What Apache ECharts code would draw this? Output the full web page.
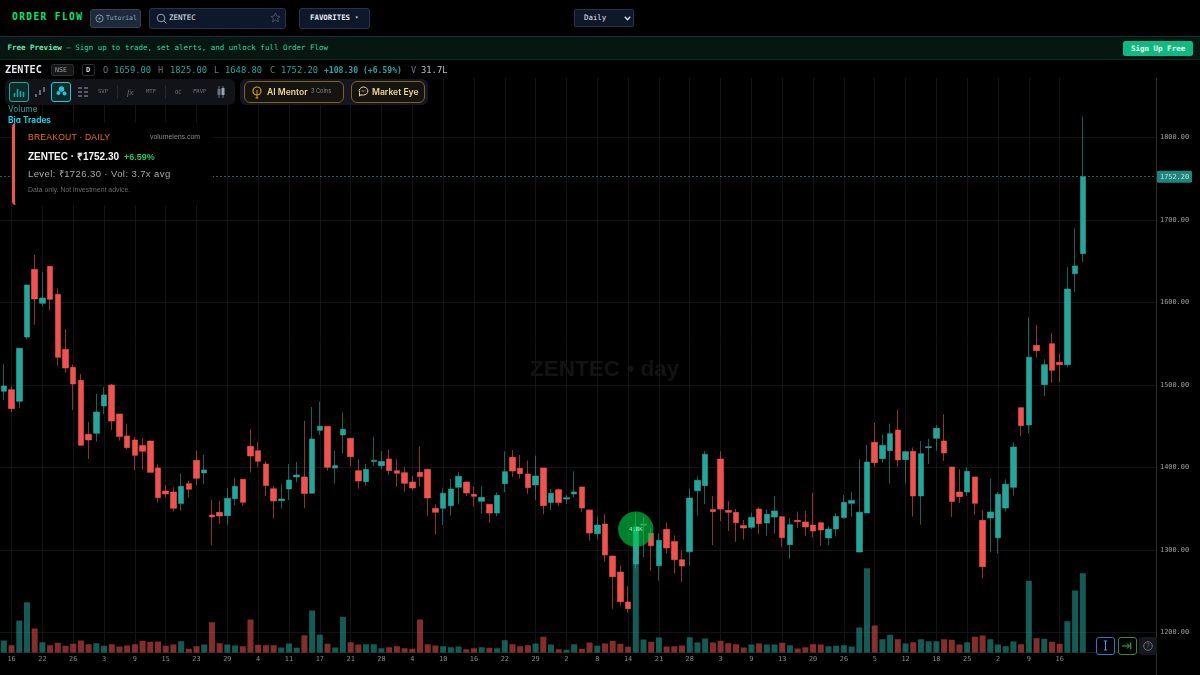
<!DOCTYPE html>
<html>
<head>
<meta charset="utf-8">
<title>ZENTEC order flow</title>
<script src="https://cdn.jsdelivr.net/npm/echarts@6/dist/echarts.min.js"></script>
<style>
html, body { margin: 0; padding: 0; background: #000; width: 1200px; height: 675px; overflow: hidden; }
#main { position: absolute; left: 0; top: 0; width: 1200px; height: 675px; }
.box { position: absolute; box-sizing: border-box; }
.t { position: absolute; white-space: nowrap; line-height: 1; font-family: "DejaVu Sans Mono", monospace; }
.s { font-family: "Liberation Sans", Arial, sans-serif; }
.i { font-family: Inter, "Noto Sans", sans-serif; }
.gray { color: #6b7280; }
.teal { color: #26a69a; }
svg { position: absolute; }
</style>
</head>
<body>
<div id="main"></div>

<!-- top bar -->
<div class="box" style="left:0;top:0;width:1200px;height:37px;background:#000;border-bottom:1px solid #1e293b"></div>
<div class="t" style="left:12px;top:12px;font-size:9.6px;font-weight:bold;color:#00e676;letter-spacing:1.35px">ORDER FLOW</div>
<div class="box" style="left:90px;top:9px;width:51px;height:19px;background:#1e293b;border:1px solid #334155;border-radius:3px"></div>
<svg style="left:95px;top:14px" width="9" height="9" viewBox="0 0 10 10"><circle cx="5" cy="5" r="4" fill="none" stroke="#94a3b8" stroke-width="1"/><circle cx="5" cy="5" r="1.2" fill="#94a3b8"/></svg>
<div class="t" style="left:106px;top:15px;font-size:6.4px;color:#94a3b8">Tutorial</div>
<div class="box" style="left:149px;top:7.5px;width:137px;height:21px;background:#0f172a;border:1px solid #263449;border-radius:3px"></div>
<svg style="left:156px;top:13px" width="11" height="11" viewBox="0 0 11 11"><circle cx="5" cy="5" r="3.8" fill="none" stroke="#94a3b8" stroke-width="1"/><path d="M8 8l2.4 2.4" stroke="#94a3b8"/></svg>
<div class="t" style="left:169px;top:14px;font-size:7.4px;color:#e2e8f0">ZENTEC</div>
<svg style="left:270px;top:12px" width="11" height="11" viewBox="0 0 24 24"><path d="M12 2l3 7 7 .6-5.4 4.7 1.7 7.2L12 17.6 5.7 21.5l1.7-7.2L2 9.6 9 9z" fill="none" stroke="#475569" stroke-width="2"/></svg>
<div class="box" style="left:299px;top:7.5px;width:71px;height:21px;background:#0f172a;border:1px solid #263449;border-radius:3px"></div>
<div class="t" style="left:310px;top:14px;font-size:7.4px;font-weight:bold;color:#e2e8f0">FAVORITES</div>
<div class="t" style="left:355px;top:15px;font-size:5.5px;color:#e2e8f0">▾</div>
<div class="box" style="left:574px;top:9px;width:60px;height:18px;background:#0f172a;border:1px solid #263449;border-radius:2px"></div>
<div class="t" style="left:584px;top:14px;font-size:7.4px;color:#e2e8f0">Daily</div>
<svg style="left:624px;top:15.5px" width="7" height="5" viewBox="0 0 7 5"><path d="M.8 .8L3.5 3.8 6.2 .8" fill="none" stroke="#e2e8f0" stroke-width="1.3"/></svg>

<!-- preview banner -->
<div class="box" style="left:0;top:37px;width:1200px;height:23px;background:#061712;border-bottom:1px solid #0e2b20"></div>
<div class="t" style="left:7.5px;top:44px;font-size:7.5px;color:#34d399"><b style="color:#6ee7b7">Free Preview</b> — Sign up to trade, set alerts, and unlock full Order Flow</div>
<div class="box" style="left:1123px;top:41px;width:70px;height:14.5px;background:#10b981;border-radius:2.5px"></div>
<div class="t" style="left:1131px;top:44.5px;font-size:7.5px;font-weight:bold;color:#ecfdf5">Sign Up Free</div>

<!-- ohlc row -->
<div class="box" style="left:0;top:60px;width:1156px;height:18px;background:#000"></div>
<div class="t" style="left:5px;top:65px;font-size:10.2px;font-weight:bold;color:#e5e7eb">ZENTEC</div>
<div class="box" style="left:51px;top:64px;width:23px;height:12px;background:#171717;border:1px solid #2c2c2c;border-radius:2px"></div>
<div class="t" style="left:55px;top:67px;font-size:6.6px;color:#9ca3af">NSE</div>
<div class="box" style="left:82px;top:64px;width:13px;height:12px;border:1px solid #2c2c2c;border-radius:2px"></div>
<div class="t" style="left:86px;top:66.5px;font-size:7px;font-weight:bold;color:#d1d5db">D</div>
<div class="t gray" style="left:103px;top:66px;font-size:8.6px">O</div>
<div class="t teal" style="left:114px;top:66px;font-size:8.8px">1659.00</div>
<div class="t gray" style="left:158px;top:66px;font-size:8.6px">H</div>
<div class="t teal" style="left:170px;top:66px;font-size:8.8px">1825.00</div>
<div class="t gray" style="left:214px;top:66px;font-size:8.6px">L</div>
<div class="t teal" style="left:225px;top:66px;font-size:8.8px">1648.80</div>
<div class="t gray" style="left:270px;top:66px;font-size:8.6px">C</div>
<div class="t teal" style="left:281px;top:66px;font-size:8.8px">1752.20</div>
<div class="t teal" style="left:324px;top:66px;font-size:8.1px;font-weight:bold">+108.30 (+6.59%)</div>
<div class="t gray" style="left:411px;top:66px;font-size:8.6px">V</div>
<div class="t" style="left:421px;top:66px;font-size:8.8px;color:#b8bec7">31.7L</div>

<!-- toolbar -->
<div class="box" style="left:5px;top:79px;width:230px;height:26px;background:#111318;border-radius:6px"></div>
<div class="box" style="left:9px;top:82px;width:20px;height:19.5px;background:#0b2a2a;border:1px solid #26a69a;border-radius:3px"></div>
<svg style="left:13px;top:86px" width="12" height="12" viewBox="0 0 12 12"><path d="M1.5 11V7M4.5 11V3M7.5 11V5M10.5 11V6" stroke="#26a69a" stroke-width="1.6"/></svg>
<svg style="left:34px;top:86px" width="12" height="12" viewBox="0 0 12 12"><path d="M2 11V8M6 9V4M10 6V1" stroke="#6b7280" stroke-width="1.8"/></svg>
<div class="box" style="left:51px;top:82px;width:20px;height:19.5px;background:#0b2a2a;border:1px solid #26c6da;border-radius:3px"></div>
<svg style="left:55px;top:85px" width="13" height="13" viewBox="0 0 13 13"><circle cx="6.5" cy="4" r="2.7" fill="#26c6da"/><circle cx="3.5" cy="8" r="2" fill="#26c6da"/><circle cx="9.5" cy="8.5" r="2" fill="#26c6da"/></svg>
<svg style="left:77px;top:86px" width="12" height="12" viewBox="0 0 12 12"><path d="M1 2h4M7 2h4M1 6h4M7 6h4M1 10h4M7 10h4" stroke="#6b7280" stroke-width="1.3"/></svg>
<div class="t gray" style="left:98px;top:88.5px;font-size:5.6px">SVP</div>
<div class="box" style="left:117px;top:85px;width:1px;height:14px;background:#24272e"></div>
<div class="t gray" style="left:127px;top:88px;font-size:9px;font-style:italic;font-family:'Liberation Serif',serif">fx</div>
<div class="t gray" style="left:146px;top:88.5px;font-size:5.6px">MTF</div>
<div class="box" style="left:165px;top:85px;width:1px;height:14px;background:#24272e"></div>
<div class="t gray" style="left:175px;top:90px;font-size:5.6px">OC</div>
<div class="t gray" style="left:193px;top:88.5px;font-size:5.6px">FRVP</div>
<svg style="left:216px;top:86px" width="10" height="12" viewBox="0 0 10 12"><path d="M3 0v12M7 0v12" stroke="#6b7280"/><rect x="1.5" y="3" width="3" height="6" fill="#6b7280"/><rect x="5.5" y="2" width="3" height="7" fill="#9ca3af"/></svg>

<div class="box" style="left:240px;top:79px;width:188px;height:26px;background:#15161f;border-radius:6px"></div>
<div class="box" style="left:244px;top:81px;width:100px;height:21.5px;background:#14130f;border:1px solid #7c6224;border-radius:6px"></div>
<svg style="left:251px;top:86px" width="12" height="13" viewBox="0 0 12 13"><circle cx="6" cy="5" r="4" fill="none" stroke="#d4a017" stroke-width="1.2"/><path d="M6 4v8M4.5 12h3" stroke="#d4a017"/></svg>
<div class="t i" style="left:267px;top:87.5px;font-size:8.6px;font-weight:600;color:#f0d78c">AI Mentor</div>
<div class="t i" style="left:311px;top:89px;font-size:5.6px;color:#8a8a80">3 Coins</div>
<div class="box" style="left:351px;top:81px;width:74px;height:21.5px;background:#14130f;border:1px solid #7c6224;border-radius:6px"></div>
<svg style="left:358px;top:86px" width="11" height="11" viewBox="0 0 11 11"><path d="M5.5 1a4.4 4 0 0 1 0 8H2l-.5 1.2V6.5A4.4 4 0 0 1 5.5 1z" fill="none" stroke="#f0d78c"/><path d="M3.5 5h4" stroke="#f0d78c" stroke-dasharray="1 .8"/></svg>
<div class="t i" style="left:372px;top:87.5px;font-size:8.6px;font-weight:600;color:#f0d78c">Market Eye</div>

<div class="t i teal" style="left:8px;top:105px;font-size:8.4px">Volume</div>
<div class="t i" style="left:8px;top:116px;font-size:8.4px;font-weight:600;color:#00e5ff">Big Trades</div>

<!-- breakout card -->
<div class="box" style="left:12px;top:123px;width:201px;height:82px;background:#000;border-left:3px solid #ef5350;border-radius:4px 0 0 4px"></div>
<div class="t s" style="left:28px;top:133px;font-size:8.6px;color:#ea6c0e;letter-spacing:.2px">BREAKOUT · DAILY</div>
<div class="t s" style="left:150px;top:134px;font-size:6.95px;color:#8b8b8b">volumelens.com</div>
<div class="t s" style="left:28px;top:152px;font-size:10px;font-weight:bold;color:#f3f4f6">ZENTEC · ₹1752.30</div>
<div class="t s" style="left:124px;top:153px;font-size:9px;font-weight:bold;color:#22c55e">+6.59%</div>
<div class="t s" style="left:28px;top:169px;font-size:9.5px;color:#a8a8a8;letter-spacing:.4px">Level: ₹1726.30 · Vol: 3.7x avg</div>
<div class="t s" style="left:28px;top:187px;font-size:6.9px;color:#6a6a6a">Data only. Not investment advice.</div>

<!-- price scale border and corner buttons -->
<div class="box" style="left:1156px;top:78px;width:1px;height:597px;background:#2b2b2b"></div>
<div class="box" style="left:1096px;top:636.5px;width:19px;height:18.5px;background:#000;border:1px solid #1e7bd6;border-radius:3px"></div>
<svg style="left:1101px;top:640px" width="9" height="11" viewBox="0 0 9 11"><path d="M4.5 1v9M2.8 1h3.4M2.8 10h3.4" stroke="#3b9eea" stroke-width="1"/></svg>
<div class="box" style="left:1117.5px;top:636.5px;width:19px;height:18.5px;background:#000;border:1px solid #2e8b3d;border-radius:3px"></div>
<svg style="left:1122px;top:641px" width="10" height="10" viewBox="0 0 10 10"><path d="M0 5h7M5 2.5L7.5 5 5 7.5M8.8 1.5v7" fill="none" stroke="#3fb950" stroke-width="1"/></svg>
<div class="box" style="left:1139px;top:636.5px;width:18px;height:18.5px;background:#15171c;border-radius:3px"></div>
<svg style="left:1143px;top:640.5px" width="10" height="10" viewBox="0 0 10 10"><circle cx="5" cy="5" r="4.3" fill="none" stroke="#6b7280"/></svg>
<div class="t s" style="left:1146px;top:642.5px;font-size:6.5px;color:#6b7280">?</div>

<script>
var upColor = '#26a69a';
var downColor = '#ef5350';

// day labels under the chart, one every 4th candle starting from the 2nd
var dayTicks = ['16','22','26','3','9','15','23','29','4','11','17','21','28','4','10','16','22','29','2','8','14','21','28','3','9','13','20','26','5','12','18','25','2','9','16'];

var opens = [
    1492.1,1494.1,1480.0,1557.9,1640.0,1598.8,1643.6,1609.7,1543.0,1521.2,
    1505.4,1440.0,1441.2,1474.3,1499.8,1464.6,1438.0,1433.1,1426.3,1431.9,
    1399.2,1371.3,1370.1,1356.0,1380.2,1408.5,1393.1,1342.2,1345.4,1341.4,
    1362.0,1385.4,1425.4,1420.2,1404.0,1374.1,1359.6,1373.7,1388.3,1388.3,
    1368.5,1444.8,1449.7,1399.2,1439.2,1435.1,1395.9,1382.6,1406.9,1402.0,
    1410.1,1395.9,1393.5,1382.2,1393.9,1397.6,1350.3,1350.3,1353.5,1375.8,
    1382.2,1367.3,1358.8,1355.1,1344.6,1380.2,1412.1,1398.8,1391.9,1378.6,
    1399.2,1357.2,1372.9,1361.6,1367.7,1376.2,1348.3,1319.5,1331.3,1292.5,
    1273.0,1236.7,1282.8,1329.8,1320.0,1280.7,1324.8,1310.2,1288.0,1297.7,
    1371.6,1377.7,1349.0,1410.0,1347.8,1345.4,1329.6,1327.2,1349.4,1332.5,
    1339.7,1340.1,1306.2,1335.7,1333.7,1330.0,1332.9,1314.3,1325.2,1339.3,
    1356.3,1297.3,1344.6,1430.3,1410.5,1420.2,1445.2,1409.3,1419.4,1365.2,
    1423.8,1435.1,1431.9,1400.4,1370.1,1370.1,1388.3,1335.7,1338.6,1314.7,
    1350.7,1375.7,1472.3,1451.3,1547.8,1500.2,1549.9,1527.2,1524.4,1634.7,
    1659.0
];
var closes = [
    1498.6,1471.1,1544.2,1621.0,1604.0,1605.2,1603.6,1533.3,1520.4,1501.0,
    1426.6,1433.1,1467.1,1487.7,1456.1,1437.2,1423.8,1414.5,1419.4,1393.9,
    1363.2,1367.7,1350.3,1376.9,1373.3,1386.7,1396.8,1339.8,1341.0,1362.4,
    1376.9,1357.6,1413.7,1407.3,1377.8,1359.2,1361.6,1384.6,1390.7,1368.1,
    1434.3,1449.7,1400.0,1402.0,1446.0,1412.9,1383.4,1397.6,1408.5,1406.9,
    1395.9,1392.7,1380.6,1374.9,1388.7,1362.8,1345.5,1368.5,1373.7,1389.1,
    1368.9,1364.8,1363.6,1344.6,1366.0,1394.7,1395.5,1392.3,1375.3,1389.5,
    1353.5,1368.5,1357.2,1363.2,1370.1,1350.7,1320.4,1330.0,1293.7,1267.4,
    1237.1,1228.6,1328.0,1331.3,1305.0,1311.5,1302.2,1288.0,1280.3,1362.8,
    1384.2,1415.7,1346.2,1349.4,1345.4,1332.9,1326.4,1339.3,1331.7,1343.0,
    1347.0,1314.7,1330.4,1334.1,1327.6,1322.8,1324.0,1325.2,1340.5,1357.5,
    1359.9,1345.4,1406.4,1405.6,1426.6,1440.8,1408.9,1419.0,1365.2,1416.5,
    1425.0,1447.2,1417.3,1358.4,1364.4,1395.1,1356.3,1279.6,1345.8,1367.2,
    1379.4,1424.6,1450.5,1533.3,1541.4,1524.4,1517.5,1524.4,1616.1,1644.0,
    1752.2
];
var highs = [
    1524.8,1498.6,1544.2,1621.0,1657.3,1636.7,1644.0,1616.9,1567.6,1524.8,
    1513.1,1454.9,1488.9,1497.4,1501.0,1464.6,1452.9,1436.8,1435.1,1431.9,
    1403.6,1378.6,1375.8,1392.3,1383.8,1420.2,1414.9,1360.4,1359.6,1374.9,
    1387.1,1385.4,1446.4,1430.7,1407.3,1377.4,1379.4,1404.0,1406.5,1456.1,
    1473.1,1479.6,1449.7,1420.2,1466.7,1435.1,1409.7,1404.0,1437.2,1419.4,
    1421.8,1409.7,1400.0,1389.5,1425.4,1397.6,1355.1,1374.5,1385.9,1394.3,
    1382.6,1376.9,1377.0,1355.6,1369.7,1419.4,1421.0,1415.0,1408.1,1414.1,
    1399.2,1373.7,1374.1,1366.5,1395.1,1376.2,1348.3,1340.1,1343.0,1292.5,
    1281.2,1256.1,1345.0,1340.0,1326.0,1320.0,1332.9,1317.5,1299.3,1374.1,
    1388.6,1419.7,1365.2,1419.7,1359.1,1349.4,1336.1,1345.0,1351.5,1349.0,
    1365.2,1340.5,1338.5,1346.2,1347.0,1369.2,1334.1,1328.8,1344.2,1366.8,
    1370.0,1409.7,1427.0,1453.7,1440.0,1452.9,1469.9,1420.2,1424.2,1431.9,
    1434.3,1451.3,1464.2,1400.4,1397.9,1400.4,1388.3,1348.3,1386.2,1370.1,
    1385.4,1430.3,1472.3,1581.8,1572.9,1530.9,1562.8,1538.1,1642.4,1689.7,
    1825.0
];
var lows = [
    1481.6,1467.0,1471.9,1555.1,1572.9,1594.7,1589.9,1523.2,1514.7,1469.5,
    1426.6,1410.1,1431.1,1464.2,1445.2,1432.3,1421.8,1396.4,1397.2,1393.9,
    1357.2,1363.2,1346.7,1347.5,1363.2,1378.6,1379.4,1305.9,1331.7,1330.5,
    1353.9,1353.5,1393.5,1400.0,1365.2,1337.8,1350.3,1360.4,1381.8,1350.3,
    1368.5,1439.2,1395.9,1380.2,1416.6,1401.6,1374.1,1377.8,1401.6,1397.6,
    1390.7,1376.2,1370.5,1372.1,1376.6,1341.4,1318.4,1330.1,1341.4,1355.1,
    1365.2,1352.3,1343.8,1332.5,1340.6,1369.7,1388.3,1386.3,1367.7,1360.4,
    1343.0,1347.9,1353.1,1355.6,1363.6,1345.5,1311.1,1312.7,1285.6,1228.6,
    1232.3,1223.8,1277.5,1290.9,1274.3,1262.6,1295.7,1271.5,1261.0,1280.7,
    1341.4,1355.5,1305.8,1334.9,1322.8,1309.4,1312.3,1325.2,1319.1,1317.1,
    1319.5,1303.0,1288.8,1326.4,1316.7,1315.1,1304.6,1305.8,1316.3,1337.3,
    1340.1,1297.3,1344.6,1400.4,1405.6,1380.2,1400.4,1380.6,1340.2,1330.5,
    1404.0,1420.2,1407.6,1339.8,1356.7,1365.2,1342.2,1265.4,1296.9,1295.3,
    1346.6,1365.6,1437.5,1441.2,1533.3,1486.4,1502.2,1503.4,1521.2,1612.5,
    1648.8
];
// volume in lakh
var volumes = [
    4.8,2.9,12.8,20.1,9.6,4.1,2.9,3.9,2.7,3.5,
    4.8,3.3,3.7,2.7,3.3,2.4,2.8,3.3,4.7,4.3,
    4.4,2.7,3.2,4.5,1.5,2.5,3.2,12.1,3.7,3.2,
    2.8,2.5,13.2,3.1,2.9,2.9,2.0,3.6,1.9,6.9,
    16.8,7.1,3.5,2.0,14.3,4.1,3.2,3.3,3.3,1.7,
    2.1,2.5,1.7,1.5,13.2,3.3,2.8,2.5,2.1,2.4,
    1.3,1.7,2.1,1.9,1.7,4.9,3.3,2.5,2.9,3.6,
    6.3,3.2,1.3,1.1,3.3,1.5,4.0,2.7,3.6,4.7,
    3.5,2.3,50.0,5.2,4.3,6.0,2.4,2.5,2.8,6.1,
    4.0,5.6,4.0,4.7,3.7,3.3,2.0,3.2,3.6,3.2,
    3.2,3.9,2.9,1.6,2.1,3.3,3.2,2.5,2.7,2.9,
    2.4,10.0,33.7,10.8,5.3,7.1,5.3,3.6,4.1,5.3,
    4.5,4.5,5.3,5.1,3.2,4.1,6.3,6.8,5.3,3.2,
    2.5,4.4,3.3,28.7,5.7,5.5,4.3,3.5,12.5,24.8,
    31.7
];
var lastPrice = 1752.20;

var bigTradeIndex = [82];
var bigTradePrice = [1325];
var bigTradeLabel = ['4.8K'];

// 150 slots, the right ones stay empty as margin
var xLabels = [];
var tickPos = 0;
for (let i = 0; i < 150; i++) {
    if ((i - 1) % 4 === 0 && tickPos < dayTicks.length) {
        xLabels.push(dayTicks[tickPos]);
        tickPos++;
    } else {
        xLabels.push('');
    }
}
function hasLabel(i) {
    return xLabels[i] !== '';
}

var candleData = [];
var volumeData = [];
for (let i = 0; i < opens.length; i++) {
    candleData.push([opens[i], closes[i], lows[i], highs[i]]);
    volumeData.push({
        value: volumes[i],
        itemStyle: { color: closes[i] >= opens[i] ? 'rgba(38,166,154,0.55)' : 'rgba(239,83,80,0.55)' }
    });
}
var bubbleData = [];
for (let i = 0; i < bigTradeIndex.length; i++) {
    bubbleData.push({ value: [bigTradeIndex[i], bigTradePrice[i]], label: { formatter: bigTradeLabel[i] } });
}

var gridColor = '#121316';
var labelFont = 'DejaVu Sans Mono';

var myChart = echarts.init(document.getElementById('main'), null, { width: 1200, height: 675 });
var option = {
    animation: false,
    backgroundColor: '#000',
    title: {
        text: 'ZENTEC • day',
        left: 525,
        top: 353,
        z: 0,
        textStyle: { color: '#131313', fontSize: 22.5, fontWeight: 'bold', fontFamily: 'Liberation Sans' }
    },
    grid: [
        { left: 0, right: 44, top: 54.8, height: 577.5 },
        { left: 0, right: 44, top: 452.5, height: 200 }
    ],
    xAxis: [
        {
            type: 'category',
            gridIndex: 0,
            data: xLabels,
            axisLine: { show: false },
            axisTick: { show: false },
            axisLabel: { show: false },
            splitLine: { show: true, alignWithLabel: true, interval: hasLabel, lineStyle: { color: gridColor } }
        },
        {
            type: 'category',
            gridIndex: 1,
            data: xLabels,
            axisLine: { show: true, lineStyle: { color: '#1c1c1c' } },
            axisTick: { show: false },
            axisLabel: { interval: hasLabel, margin: 3, fontSize: 6.9, color: '#8a8a8a', fontFamily: labelFont, hideOverlap: false },
            splitLine: { show: true, alignWithLabel: true, interval: hasLabel, lineStyle: { color: gridColor } }
        }
    ],
    yAxis: [
        {
            type: 'value',
            gridIndex: 0,
            position: 'right',
            min: 1200,
            max: 1900,
            interval: 100,
            axisLine: { show: false },
            axisTick: { show: false },
            axisLabel: {
                margin: 4,
                fontSize: 6.9,
                color: '#a0a0a0',
                fontFamily: labelFont,
                showMaxLabel: false,
                formatter: function (v) { return v.toFixed(2); }
            },
            splitLine: { lineStyle: { color: gridColor } }
        },
        {
            type: 'value',
            gridIndex: 1,
            min: 0,
            max: 80,
            show: false
        }
    ],
    series: [
        {
            name: 'Volume',
            type: 'bar',
            xAxisIndex: 1,
            yAxisIndex: 1,
            barWidth: 6,
            data: volumeData,
            z: 2
        },
        {
            name: 'Price',
            type: 'candlestick',
            xAxisIndex: 0,
            yAxisIndex: 0,
            barWidth: 6,
            data: candleData,
            z: 3,
            itemStyle: {
                color: upColor,
                color0: downColor,
                borderColor: upColor,
                borderColor0: downColor,
                borderWidth: 0.6
            },
            markLine: {
                silent: true,
                symbol: 'none',
                animation: false,
                data: [{ yAxis: lastPrice }],
                lineStyle: { color: upColor, type: [2, 2], width: 0.8, opacity: 0.8 },
                label: {
                    position: 'end',
                    distance: 1,
                    formatter: lastPrice.toFixed(2),
                    fontSize: 6.9,
                    color: '#e8fffb',
                    fontFamily: labelFont,
                    backgroundColor: upColor,
                    padding: [2.5, 3],
                    borderRadius: 1.5
                }
            }
        },
        {
            name: 'Big Trades',
            type: 'scatter',
            xAxisIndex: 0,
            yAxisIndex: 0,
            symbolSize: 35.4,
            data: bubbleData,
            z: 4,
            itemStyle: { color: 'rgba(0,200,70,0.8)' },
            label: { show: true, position: 'inside', fontSize: 5.6, color: '#e8ffe8', fontFamily: labelFont }
        }
    ]
};
myChart.setOption(option);
</script>
</body>
</html>
